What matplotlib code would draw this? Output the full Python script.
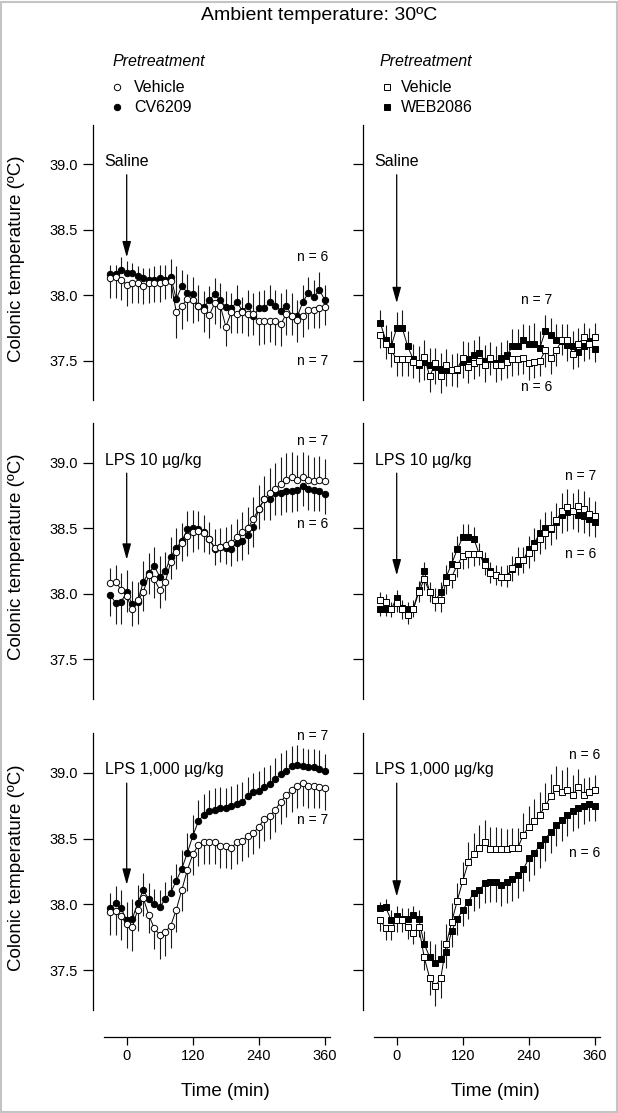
import numpy as np
import matplotlib
matplotlib.use('Agg')
import matplotlib.pyplot as plt
from matplotlib.patches import Rectangle
from matplotlib.lines import Line2D

plt.rcParams['font.family'] = ['Liberation Sans', 'DejaVu Sans']

# Time points (min), every 10 min
time_min = list(range(-30, 361, 10))

# --- Left column : CV6209 pretreatment (circles) ---
saline_vehicle_cv = [38.13, 38.14, 38.12, 38.08, 38.09, 38.09, 38.07, 38.09, 38.09, 38.09,
                     38.10, 38.11, 37.87, 37.92, 37.97, 37.96, 37.92, 37.89, 37.85, 37.94,
                     37.92, 37.76, 37.87, 37.86, 37.87, 37.86, 37.86, 37.80, 37.80, 37.80,
                     37.80, 37.78, 37.86, 37.84, 37.81, 37.84, 37.89, 37.89, 37.90, 37.91]
saline_cv6209 = [38.16, 38.16, 38.19, 38.17, 38.17, 38.15, 38.13, 38.12, 38.12, 38.13,
                 38.12, 38.14, 37.97, 38.07, 38.02, 38.01, 37.92, 37.91, 37.96, 38.01,
                 37.96, 37.91, 37.90, 37.95, 37.88, 37.92, 37.84, 37.90, 37.90, 37.95,
                 37.92, 37.88, 37.92, 37.84, 37.84, 37.95, 38.02, 37.99, 38.04, 37.96]
saline_vehicle_cv_sem = [.15, .16, .16, .16, .15, .15, .14, .15, .14, .14, .13, .13, .20, .18,
                         .17, .17, .16, .17, .18, .16, .17, .15, .16, .15, .16, .17, .16, .18,
                         .17, .16, .18, .17, .16, .18, .17, .16, .15, .14, .15, .14]
saline_cv6209_sem = [.07, .07, .10, .09, .08, .07, .08, .09, .10, .10, .11, .14, .25, .12,
                     .14, .13, .12, .12, .11, .12, .13, .12, .12, .13, .11, .12, .14, .13,
                     .14, .13, .12, .14, .13, .14, .12, .13, .12, .13, .14, .12]

lps10_vehicle_cv = [38.08, 38.09, 38.03, 37.98, 37.88, 37.95, 38.01, 38.14, 38.11, 38.03,
                    38.09, 38.24, 38.32, 38.39, 38.44, 38.47, 38.48, 38.46, 38.42, 38.35,
                    38.36, 38.37, 38.39, 38.43, 38.47, 38.50, 38.57, 38.65, 38.72, 38.77,
                    38.80, 38.84, 38.87, 38.89, 38.87, 38.89, 38.87, 38.86, 38.87, 38.86]
lps10_cv6209 = [37.99, 37.93, 37.94, 38.01, 37.92, 37.94, 38.09, 38.16, 38.21, 38.13,
                38.17, 38.28, 38.35, 38.40, 38.49, 38.50, 38.49, 38.47, 38.42, 38.34,
                38.36, 38.35, 38.34, 38.39, 38.40, 38.45, 38.51, 38.65, 38.72, 38.72,
                38.77, 38.77, 38.78, 38.78, 38.79, 38.82, 38.80, 38.79, 38.78, 38.76]
lps10_vehicle_cv_sem = [.12, .13, .13, .12, .13, .14, .14, .14, .14, .14, .14, .13, .13, .14,
                        .15, .15, .14, .14, .13, .14, .14, .14, .14, .14, .15, .16, .17, .18,
                        .18, .19, .20, .20, .20, .19, .19, .19, .19, .18, .18, .17]
lps10_cv6209_sem = [.16, .16, .17, .17, .18, .17, .16, .15, .15, .16, .15, .15, .15, .14,
                    .14, .14, .14, .13, .12, .12, .12, .12, .13, .14, .14, .15, .15, .16,
                    .16, .16, .17, .17, .16, .16, .16, .15, .16, .16, .15, .15]

lps1000_vehicle_cv = [37.94, 37.95, 37.91, 37.85, 37.83, 37.96, 38.05, 37.92, 37.82, 37.77,
                      37.79, 37.84, 37.96, 38.11, 38.26, 38.38, 38.45, 38.47, 38.47, 38.47,
                      38.44, 38.44, 38.43, 38.47, 38.48, 38.52, 38.54, 38.59, 38.65, 38.67,
                      38.72, 38.78, 38.83, 38.87, 38.90, 38.92, 38.90, 38.90, 38.89, 38.88]
lps1000_cv6209 = [37.97, 38.01, 37.97, 37.88, 37.89, 38.01, 38.11, 38.04, 38.00, 37.98,
                  38.04, 38.09, 38.18, 38.27, 38.39, 38.52, 38.63, 38.68, 38.71, 38.72,
                  38.73, 38.73, 38.75, 38.76, 38.78, 38.82, 38.85, 38.86, 38.89, 38.91,
                  38.95, 38.99, 39.01, 39.05, 39.06, 39.05, 39.04, 39.04, 39.03, 39.01]
lps1000_vehicle_cv_sem = [.17, .18, .18, .18, .18, .16, .14, .14, .16, .18, .18, .17, .17, .16,
                          .16, .16, .16, .16, .16, .16, .16, .16, .16, .16, .15, .16, .16, .16,
                          .17, .17, .17, .17, .17, .17, .17, .17, .17, .17, .16, .16]
lps1000_cv6209_sem = [.12, .13, .14, .14, .15, .14, .13, .12, .12, .13, .13, .13, .13, .14,
                      .15, .16, .16, .16, .16, .16, .16, .15, .15, .15, .15, .15, .15, .15,
                      .15, .15, .16, .16, .16, .15, .15, .14, .14, .14, .14, .13]

# --- Right column : WEB2086 pretreatment (squares) ---
saline_vehicle_web = [37.70, 37.63, 37.58, 37.51, 37.51, 37.51, 37.49, 37.48, 37.53, 37.38,
                      37.48, 37.38, 37.47, 37.43, 37.44, 37.52, 37.45, 37.48, 37.50, 37.47,
                      37.52, 37.47, 37.47, 37.49, 37.51, 37.51, 37.52, 37.48, 37.49, 37.50,
                      37.58, 37.52, 37.58, 37.66, 37.66, 37.55, 37.63, 37.68, 37.63, 37.68]
saline_web2086 = [37.79, 37.66, 37.61, 37.75, 37.75, 37.61, 37.51, 37.47, 37.49, 37.47,
                  37.45, 37.44, 37.43, 37.43, 37.43, 37.49, 37.51, 37.54, 37.56, 37.50,
                  37.51, 37.48, 37.52, 37.54, 37.61, 37.61, 37.66, 37.63, 37.63, 37.60,
                  37.73, 37.70, 37.66, 37.65, 37.62, 37.61, 37.57, 37.61, 37.65, 37.59]
saline_vehicle_web_sem = [.10, .12, .13, .13, .13, .13, .12, .13, .13, .12, .12, .13, .12, .12,
                          .12, .13, .12, .12, .12, .13, .12, .13, .12, .12, .13, .12, .12, .13,
                          .12, .12, .13, .12, .12, .12, .12, .11, .12, .11, .12, .11]
saline_web2086_sem = [.10, .11, .12, .12, .14, .12, .12, .13, .14, .13, .13, .12, .12, .12,
                      .13, .12, .13, .12, .13, .12, .12, .13, .12, .12, .13, .13, .12, .14,
                      .16, .13, .12, .13, .12, .11, .12, .12, .12, .11, .10, .10]

lps10_vehicle_web = [37.95, 37.94, 37.88, 37.93, 37.88, 37.84, 37.88, 38.01, 38.11, 38.01,
                     37.95, 37.95, 38.09, 38.13, 38.22, 38.29, 38.30, 38.30, 38.30, 38.22,
                     38.16, 38.14, 38.13, 38.13, 38.20, 38.26, 38.26, 38.31, 38.36, 38.42,
                     38.46, 38.50, 38.56, 38.63, 38.66, 38.63, 38.67, 38.65, 38.61, 38.59]
lps10_web2086 = [37.88, 37.88, 37.88, 37.97, 37.89, 37.88, 37.88, 38.03, 38.17, 38.01,
                 37.95, 38.01, 38.13, 38.23, 38.34, 38.43, 38.43, 38.42, 38.30, 38.25,
                 38.17, 38.14, 38.13, 38.13, 38.19, 38.23, 38.26, 38.34, 38.39, 38.46,
                 38.50, 38.49, 38.55, 38.60, 38.62, 38.63, 38.60, 38.59, 38.57, 38.55]
lps10_vehicle_web_sem = [.06, .06, .06, .07, .07, .07, .07, .07, .08, .08, .09, .09, .09, .09,
                         .09, .10, .10, .09, .09, .08, .08, .08, .08, .09, .09, .10, .10, .11,
                         .11, .12, .12, .13, .13, .14, .14, .14, .13, .13, .13, .12]
lps10_web2086_sem = [.05, .05, .06, .06, .06, .06, .06, .07, .07, .07, .08, .08, .09, .09,
                     .10, .10, .10, .09, .08, .07, .07, .07, .07, .08, .09, .09, .10, .10,
                     .11, .11, .12, .12, .13, .14, .14, .14, .13, .13, .13, .12]

lps1000_vehicle_web = [37.88, 37.82, 37.82, 37.88, 37.88, 37.83, 37.78, 37.83, 37.60, 37.44,
                       37.38, 37.44, 37.70, 37.87, 38.03, 38.18, 38.32, 38.38, 38.43, 38.47,
                       38.42, 38.42, 38.42, 38.42, 38.43, 38.43, 38.53, 38.59, 38.63, 38.68,
                       38.75, 38.82, 38.88, 38.85, 38.87, 38.83, 38.89, 38.83, 38.85, 38.87]
lps1000_web2086 = [37.97, 37.98, 37.88, 37.91, 37.89, 37.89, 37.92, 37.89, 37.70, 37.60,
                   37.56, 37.59, 37.64, 37.80, 37.89, 37.96, 38.02, 38.09, 38.11, 38.16,
                   38.17, 38.17, 38.15, 38.17, 38.19, 38.22, 38.27, 38.35, 38.39, 38.45,
                   38.50, 38.55, 38.60, 38.64, 38.68, 38.71, 38.73, 38.75, 38.76, 38.75]
lps1000_vehicle_web_sem = [.08, .09, .09, .09, .09, .09, .08, .08, .10, .13, .15, .15, .15, .14,
                           .13, .14, .15, .16, .17, .17, .17, .17, .16, .15, .15, .15, .16, .16,
                           .17, .17, .17, .17, .17, .17, .17, .15, .14, .13, .12, .11]
lps1000_web2086_sem = [.05, .06, .08, .08, .08, .08, .07, .07, .10, .12, .14, .14, .12, .12,
                       .12, .12, .13, .14, .14, .15, .15, .15, .16, .16, .16, .17, .17, .17,
                       .17, .17, .17, .16, .16, .16, .16, .15, .15, .14, .13, .12]

# Panel texts
injection_labels = ['Saline', 'LPS 10 \u00b5g/kg', 'LPS 1,000 \u00b5g/kg']
arrow_tips_left = [38.29, 38.26, 38.15]
arrow_tips_right = [37.94, 38.14, 38.06]
# (x, y, text) for the group sizes
n_labels_left = [[(366, 38.29, 'n = 6'), (366, 37.50, 'n = 7')],
                 [(366, 39.165, 'n = 7'), (366, 38.53, 'n = 6')],
                 [(366, 39.28, 'n = 7'), (366, 38.64, 'n = 7')]]
n_labels_right = [[(283, 37.96, 'n = 7'), (283, 37.30, 'n = 6')],
                  [(363, 38.90, 'n = 7'), (363, 38.30, 'n = 6')],
                  [(369, 39.13, 'n = 6'), (369, 38.39, 'n = 6')]]

W, H = 618, 1113


def draw_pair(ax, t, open_y, open_sem, filled_y, filled_sem, marker, msize):
    t = np.array(t)
    oy, fy = np.array(open_y), np.array(filled_y)
    osem, fsem = np.array(open_sem), np.array(filled_sem)
    # error bars point away from the other group
    open_up = oy >= fy
    o_end = np.where(open_up, oy + osem, oy - osem)
    f_end = np.where(open_up, fy - fsem, fy + fsem)
    ax.vlines(t, fy, f_end, color='#1a1a1a', lw=0.8, zorder=1)
    ax.vlines(t, oy, o_end, color='#1a1a1a', lw=0.8, zorder=1)
    ax.plot(t, fy, '-', color='black', lw=0.7, marker=marker, ms=msize,
            mfc='black', mec='black', mew=0.7, zorder=3)
    ax.plot(t, oy, '-', color='black', lw=0.7, marker=marker, ms=msize,
            mfc='white', mec='black', mew=0.7, zorder=4)


def style_axis(ax, show_ylabels, show_x):
    ax.set_xlim(-61, 370)
    ax.set_ylim(37.2, 39.3)
    for side in ['top', 'right']:
        ax.spines[side].set_visible(False)
    ax.spines['left'].set_linewidth(0.9)
    ax.set_yticks([37.5, 38.0, 38.5, 39.0])
    ax.tick_params(axis='y', direction='out', length=7, width=0.9, pad=4,
                   labelsize=10.5, labelleft=show_ylabels)
    if show_ylabels:
        ax.set_yticklabels(['37.5', '38.0', '38.5', '39.0'])
    if show_x:
        ax.spines['bottom'].set_position(('outward', 19.2))
        ax.spines['bottom'].set_bounds(-41, 369)
        ax.spines['bottom'].set_linewidth(0.9)
        ax.set_xticks([0, 120, 240, 360])
        ax.tick_params(axis='x', direction='out', length=6, width=0.9, pad=3,
                       labelsize=10.5)
    else:
        ax.spines['bottom'].set_visible(False)
        ax.set_xticks([])


def main():
    fig = plt.figure(figsize=(W / 100, H / 100), dpi=100)

    rows_px = [(125, 400), (423.3, 698.6), (733, 1010)]
    cols_px = [(93.1, 237.4), (363.1, 237.4)]

    left_sets = [
        (saline_vehicle_cv, saline_vehicle_cv_sem, saline_cv6209, saline_cv6209_sem),
        (lps10_vehicle_cv, lps10_vehicle_cv_sem, lps10_cv6209, lps10_cv6209_sem),
        (lps1000_vehicle_cv, lps1000_vehicle_cv_sem, lps1000_cv6209, lps1000_cv6209_sem),
    ]
    right_sets = [
        (saline_vehicle_web, saline_vehicle_web_sem, saline_web2086, saline_web2086_sem),
        (lps10_vehicle_web, lps10_vehicle_web_sem, lps10_web2086, lps10_web2086_sem),
        (lps1000_vehicle_web, lps1000_vehicle_web_sem, lps1000_web2086, lps1000_web2086_sem),
    ]

    for r, (top, bottom) in enumerate(rows_px):
        for c, (x0, w) in enumerate(cols_px):
            ax = fig.add_axes([x0 / W, (H - bottom) / H, w / W, (bottom - top) / H])
            if c == 0:
                oy, osem, fy, fsem = left_sets[r]
                draw_pair(ax, time_min, oy, osem, fy, fsem, 'o', 4.6)
                tip = arrow_tips_left[r]
                nl = n_labels_left[r]
            else:
                oy, osem, fy, fsem = right_sets[r]
                draw_pair(ax, time_min, oy, osem, fy, fsem, 's', 4.3)
                tip = arrow_tips_right[r]
                nl = n_labels_right[r]
            style_axis(ax, c == 0, r == 2)

            ax.text(-40, 39.02, injection_labels[r], ha='left', va='center', fontsize=11.5)
            ax.annotate('', xy=(0, tip), xytext=(0, 38.92),
                        arrowprops=dict(arrowstyle='-|>,head_length=0.8,head_width=0.22',
                                        color='black', lw=0.9, mutation_scale=12,
                                        shrinkA=0, shrinkB=0))
            for (nx, ny, txt) in nl:
                ax.text(nx, ny, txt, ha='right', va='center', fontsize=10)

            if r == 2:
                fig.text((x0 + (180 + 61) / 431 * w) / W, 1 - 1091.7 / H, 'Time (min)',
                         ha='center', va='center', fontsize=13.5)

            if c == 0:
                fig.text(16.7 / W, 1 - ((top + bottom) / 2 - 4) / H, 'Colonic temperature (\u00baC)',
                         rotation=90, ha='center', va='center', fontsize=13.5)

    # Legends (placed by hand, like the original)
    leg_info = [(112, 117, 134, 'o', 'CV6209'), (379, 387, 401, 's', 'WEB2086')]
    for title_x, mark_x, text_x, mk, name in leg_info:
        fig.text(title_x / W, 1 - 62 / H, 'Pretreatment', style='italic',
                 ha='left', va='center', fontsize=11.5)
        for row_y, face, label in [(87, 'white', 'Vehicle'), (107, 'black', name)]:
            fig.add_artist(Line2D([mark_x / W], [1 - row_y / H], ls='none', marker=mk,
                                  ms=4.6 if mk == 'o' else 4.3, mfc=face, mec='black',
                                  mew=0.7, transform=fig.transFigure))
            fig.text(text_x / W, 1 - row_y / H, label, ha='left', va='center',
                     fontsize=11.5)

    fig.text(319 / W, 1 - 16 / H, 'Ambient temperature: 30\u00baC', ha='center', va='center',
             fontsize=14)

    # light gray frame around the figure
    fig.patches.append(Rectangle((1.5 / W, 1.5 / H), 1 - 3 / W, 1 - 3 / H,
                                 transform=fig.transFigure, fill=False,
                                 edgecolor='#c4c4c4', lw=1.5))

    fig.savefig('out.png', dpi=100)


if __name__ == "__main__":
    main()
